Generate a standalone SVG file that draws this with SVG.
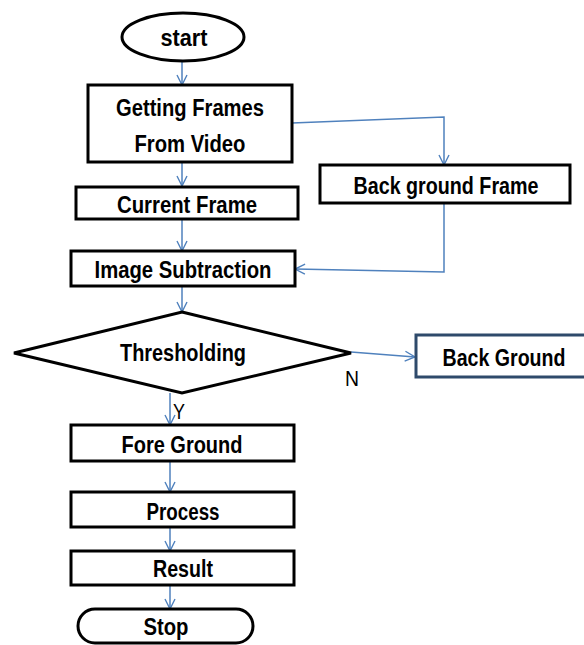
<svg xmlns="http://www.w3.org/2000/svg" width="584" height="645" viewBox="0 0 584 645">
<defs>
<marker id="arr" viewBox="0 0 12 12" refX="11" refY="6" markerWidth="12" markerHeight="12" markerUnits="userSpaceOnUse" orient="auto">
<path d="M1,1 L11,6 L1,11" fill="none" stroke="#4f81bd" stroke-width="1.4"/>
</marker>
</defs>
<style>
.box{fill:#fff;stroke:#000;stroke-width:3}
.box2{fill:#fff;stroke:#2e4a6b;stroke-width:3}
.t{font-family:"Liberation Sans",Arial,sans-serif;font-weight:bold;font-size:23px;fill:#000;text-anchor:middle}
.lbl{font-family:"Liberation Sans",Arial,sans-serif;font-size:22px;fill:#000;text-anchor:middle}
.c{fill:none;stroke:#4f81bd;stroke-width:1.5;marker-end:url(#arr)}
</style>
<rect width="584" height="645" fill="#fff"/>
<g id="connectors">
<path class="c" d="M182,61 L182,85"/>
<path class="c" d="M182,162 L182,186"/>
<path class="c" d="M292,123 L444,117 L444,165"/>
<path class="c" d="M444,203 L444,272 L295,269"/>
<path class="c" d="M182,219 L182,251"/>
<path class="c" d="M182,286 L182,312"/>
<path class="c" d="M351,352 L415,357"/>
<path class="c" d="M170,393 L170,425"/>
<path class="c" d="M170,461 L170,492"/>
<path class="c" d="M170,527 L170,551"/>
<path class="c" d="M170,585 L170,609"/>
</g>
<g id="start">
<ellipse class="box" cx="183" cy="37" rx="61" ry="24"/>
<text class="t" x="184" y="46" textLength="47" lengthAdjust="spacingAndGlyphs">start</text>
</g>
<g id="getting-frames">
<rect class="box" x="88" y="85" width="204" height="77"/>
<text class="t" x="190" y="116" textLength="148" lengthAdjust="spacingAndGlyphs">Getting Frames</text>
<text class="t" x="190" y="152" textLength="111" lengthAdjust="spacingAndGlyphs">From Video</text>
</g>
<g id="current-frame">
<rect class="box" x="76" y="187" width="222" height="32"/>
<text class="t" x="187" y="213" textLength="140" lengthAdjust="spacingAndGlyphs">Current Frame</text>
</g>
<g id="background-frame">
<rect class="box" x="320" y="165" width="250" height="38"/>
<text class="t" x="446" y="194" textLength="185" lengthAdjust="spacingAndGlyphs">Back ground Frame</text>
</g>
<g id="image-subtraction">
<rect class="box" x="71" y="251" width="224" height="35"/>
<text class="t" x="183" y="278" textLength="177" lengthAdjust="spacingAndGlyphs">Image Subtraction</text>
</g>
<g id="thresholding">
<polygon class="box" points="182,312 351,353 182,393 14,353"/>
<text class="t" x="183" y="361" textLength="126" lengthAdjust="spacingAndGlyphs">Thresholding</text>
</g>
<g id="back-ground">
<rect class="box2" x="416" y="335" width="172" height="42"/>
<text class="t" x="504" y="366" textLength="123" lengthAdjust="spacingAndGlyphs">Back Ground</text>
</g>
<g id="labels">
<text class="lbl" x="352" y="386" textLength="14" lengthAdjust="spacingAndGlyphs">N</text>
<text class="lbl" x="179" y="419" textLength="12" lengthAdjust="spacingAndGlyphs">Y</text>
</g>
<g id="fore-ground">
<rect class="box" x="71" y="425" width="223" height="36"/>
<text class="t" x="182" y="453" textLength="121" lengthAdjust="spacingAndGlyphs">Fore Ground</text>
</g>
<g id="process">
<rect class="box" x="71" y="492" width="223" height="35"/>
<text class="t" x="183" y="520" textLength="73" lengthAdjust="spacingAndGlyphs">Process</text>
</g>
<g id="result">
<rect class="box" x="71" y="551" width="223" height="34"/>
<text class="t" x="183" y="577" textLength="60" lengthAdjust="spacingAndGlyphs">Result</text>
</g>
<g id="stop">
<rect class="box" x="78" y="609" width="175" height="34" rx="17" ry="17"/>
<text class="t" x="166" y="635" textLength="45" lengthAdjust="spacingAndGlyphs">Stop</text>
</g>
</svg>
